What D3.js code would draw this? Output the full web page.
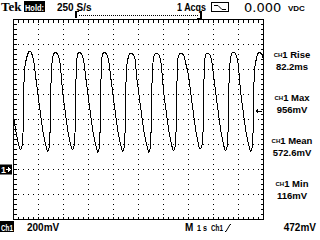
<!DOCTYPE html>
<html>
<head>
<meta charset="utf-8">
<script src="https://cdn.jsdelivr.net/npm/d3@7"></script>
<style>
  html, body { margin: 0; padding: 0; background: #fff; }
  svg { display: block; }
  text { font-family: "Liberation Sans", sans-serif; font-weight: bold; fill: #000; }
</style>
</head>
<body>
<svg width="320" height="240"></svg>
<script>
// scope settings
const secPerDiv = 1;
const voltsPerDiv = 0.2;
const triggerLevel = 0.472;

// measurements panel
const measureNames = ["Rise", "Max", "Mean", "Min"];
const measureValues = ["82.2ms", "956mV", "572.6mV", "116mV"];

// the captured trace, [seconds, volts] (one row per cycle)
const trace = [
  [0, .424], [.12, .280], [.20, .200], [.24, .172],
  [.28, .160], [.32, .172], [.36, .208], [.388, .352], [.412, .632], [.44, .792], [.52, .888], [.58, .928], [.64, .946], [.70, .938], [.76, .908], [.82, .856], [.88, .752], [.96, .632], [1.04, .504], [1.12, .384], [1.20, .280], [1.28, .200], [1.32, .172],
  [1.36, .148], [1.40, .160], [1.44, .196], [1.468, .352], [1.492, .632], [1.52, .792], [1.56, .888], [1.62, .928], [1.68, .936], [1.74, .928], [1.80, .908], [1.86, .856], [1.96, .632], [2.04, .504], [2.12, .384], [2.20, .280], [2.28, .200], [2.32, .172],
  [2.36, .160], [2.40, .172], [2.44, .208], [2.468, .352], [2.492, .632], [2.52, .850], [2.58, .928], [2.64, .936], [2.70, .928], [2.76, .908], [2.82, .856], [2.88, .752], [2.96, .632], [3.04, .504], [3.12, .384], [3.20, .280], [3.28, .200], [3.32, .172],
  [3.36, .140], [3.40, .152], [3.44, .188], [3.468, .352], [3.492, .632], [3.52, .860], [3.58, .928], [3.64, .936], [3.70, .928], [3.76, .908], [3.82, .856], [3.88, .752], [3.96, .632], [4.04, .504], [4.12, .384], [4.20, .280], [4.28, .200], [4.32, .172],
  [4.36, .144], [4.40, .156], [4.44, .192], [4.468, .352], [4.492, .632], [4.52, .792], [4.58, .888], [4.64, .924], [4.70, .932], [4.76, .924], [4.82, .908], [4.88, .856], [4.92, .752], [5.00, .632], [5.08, .504], [5.16, .384], [5.24, .280], [5.32, .200], [5.36, .172],
  [5.40, .140], [5.44, .152], [5.48, .188], [5.508, .352], [5.532, .632], [5.56, .792], [5.60, .888], [5.66, .924], [5.72, .932], [5.78, .924], [5.84, .908], [5.90, .856], [6.00, .632], [6.08, .504], [6.16, .384], [6.24, .280], [6.32, .200], [6.36, .172],
  [6.40, .152], [6.44, .164], [6.48, .200], [6.508, .352], [6.532, .632], [6.58, .888], [6.64, .924], [6.70, .932], [6.76, .924], [6.82, .908], [6.88, .856], [7.00, .752], [7.08, .632], [7.16, .504], [7.24, .384], [7.32, .280], [7.40, .200], [7.44, .172],
  [7.48, .168], [7.52, .180], [7.56, .216], [7.588, .352], [7.612, .632], [7.64, .860], [7.70, .924], [7.76, .932], [7.82, .924], [7.88, .908], [7.94, .856], [8.00, .752], [8.08, .632], [8.16, .504], [8.24, .384], [8.32, .280], [8.40, .200], [8.44, .172],
  [8.48, .152], [8.52, .164], [8.56, .200], [8.588, .352], [8.612, .632], [8.64, .792], [8.68, .888], [8.74, .932], [8.80, .940], [8.86, .932], [8.92, .908], [8.98, .856], [9.08, .632], [9.16, .504], [9.24, .384], [9.32, .280], [9.40, .200], [9.44, .172],
  [9.48, .144], [9.52, .156], [9.56, .192], [9.588, .352], [9.612, .632], [9.64, .792], [9.72, .888], [9.78, .928], [9.84, .936], [9.90, .928], [9.96, .908], [10.0, .880]
];

const svg = d3.select("svg");

const x = d3.scaleLinear().domain([0, 10 * secPerDiv]).range([13.5, 263.5]);
const y = d3.scaleLinear().domain([-2 * voltsPerDiv, 6 * voltsPerDiv]).range([219.5, 19.5]);

// graticule
const majorX = d3.range(1, 10).map(i => i * secPerDiv);
const majorY = d3.range(-1, 6).map(i => i * voltsPerDiv);
const minorX = d3.range(0, 51).map(i => i * secPerDiv / 5);
const minorY = d3.range(0, 41).map(i => -2 * voltsPerDiv + i * voltsPerDiv / 5);

const grid = svg.append("g").attr("shape-rendering", "crispEdges");

// dotted division lines
majorX.forEach(t => {
  grid.selectAll(null).data(minorY).enter().append("rect")
    .attr("x", Math.floor(x(t))).attr("y", v => Math.floor(y(v)))
    .attr("width", 1).attr("height", 1);
});
majorY.forEach(v => {
  grid.selectAll(null).data(minorX).enter().append("rect")
    .attr("x", t => Math.floor(x(t))).attr("y", Math.floor(y(v)))
    .attr("width", 1).attr("height", 1);
});

// border ticks
grid.selectAll(null).data(minorX).enter().append("line")
  .attr("x1", d => x(d)).attr("x2", d => x(d))
  .attr("y1", y.range()[1]).attr("y2", y.range()[1] + 3).attr("stroke", "#000");
grid.selectAll(null).data(minorX).enter().append("line")
  .attr("x1", d => x(d)).attr("x2", d => x(d))
  .attr("y1", y.range()[0]).attr("y2", y.range()[0] - 3).attr("stroke", "#000");
grid.selectAll(null).data(minorY).enter().append("line")
  .attr("y1", d => y(d)).attr("y2", d => y(d))
  .attr("x1", x.range()[0]).attr("x2", x.range()[0] + 3).attr("stroke", "#000");
grid.selectAll(null).data(minorY).enter().append("line")
  .attr("y1", d => y(d)).attr("y2", d => y(d))
  .attr("x1", x.range()[1]).attr("x2", x.range()[1] - 3).attr("stroke", "#000");

grid.append("rect")
  .attr("x", x.range()[0]).attr("y", y.range()[1])
  .attr("width", x.range()[1] - x.range()[0]).attr("height", y.range()[0] - y.range()[1])
  .attr("fill", "none").attr("stroke", "#000");

// trace
svg.append("defs").append("clipPath").attr("id", "scr").append("rect")
  .attr("x", 14).attr("y", 20).attr("width", 249).attr("height", 199);

svg.append("path")
  .datum(trace)
  .attr("clip-path", "url(#scr)")
  .attr("fill", "none")
  .attr("stroke", "#000")
  .attr("stroke-width", 1)
  .attr("shape-rendering", "crispEdges")
  .attr("d", d3.line().x(d => x(d[0])).y(d => y(d[1])).curve(d3.curveMonotoneX));

// ground marker
svg.append("rect").attr("x", 0).attr("y", y(0) - 5).attr("width", 12).attr("height", 10);
svg.append("text").attr("x", 1).attr("y", y(0) + 3.5).style("font-size", "9px").style("fill", "#fff").text("1");
svg.append("path")
  .attr("d", `M6,${y(0)}h4m-2,-2l2,2l-2,2`)
  .attr("stroke", "#fff").attr("fill", "none").attr("shape-rendering", "crispEdges");

// trigger level arrow
const ty = Math.round(y(triggerLevel));
svg.append("path").attr("d", `M255,${ty}L258,${ty - 3}L258,${ty + 3}Z`).attr("shape-rendering", "crispEdges");
svg.append("line").attr("x1", 258).attr("x2", 262).attr("y1", ty + 0.5).attr("y2", ty + 0.5)
  .attr("stroke", "#000").attr("shape-rendering", "crispEdges");

// header
svg.append("text").attr("x", 1).attr("y", 11)
  .style("font-family", "'Liberation Serif', serif").style("font-size", "13px").text("Tek");
svg.append("rect").attr("x", 24).attr("y", 1).attr("width", 21).attr("height", 11);
svg.append("text").attr("x", 25).attr("y", 10.5).style("font-size", "9px").style("fill", "#fff")
  .attr("textLength", 19).attr("lengthAdjust", "spacingAndGlyphs").text("Hold:");
svg.append("text").attr("x", 57).attr("y", 11).style("font-size", "10px").text("250 S/s");

// record view bracket
const rec = svg.append("g").attr("shape-rendering", "crispEdges");
rec.append("path").attr("d", "M75,11h4v1h-2v6h-2z");
rec.append("path").attr("d", "M202,11h-2v7h-3v1h5z");
rec.selectAll(null).data(d3.range(79, 199, 2)).enter().append("rect")
  .attr("x", d => d).attr("y", 15).attr("width", 1).attr("height", 1);

svg.append("text").attr("x", 177).attr("y", 11).style("font-size", "10px")
  .attr("textLength", 29).attr("lengthAdjust", "spacingAndGlyphs").text("1 Acqs");
svg.append("rect").attr("x", 211.5).attr("y", 2.5).attr("width", 17).attr("height", 9)
  .attr("fill", "none").attr("stroke", "#000").attr("shape-rendering", "crispEdges");
svg.append("path").attr("d", "M214,5.5h4l4,4h4").attr("fill", "none").attr("stroke", "#000");
svg.append("text").attr("x", 244).attr("y", 12).style("font-size", "13px").style("font-weight", "normal")
  .style("font-family", "'DejaVu Sans', sans-serif").text("0.000");
svg.append("text").attr("x", 288).attr("y", 11).style("font-size", "8px").text("VDC");

// footer
svg.append("rect").attr("x", 0).attr("y", 221).attr("width", 14).attr("height", 11);
svg.append("text").attr("x", 1).attr("y", 230.5).style("font-size", "9px").style("fill", "#fff")
  .attr("textLength", 12).attr("lengthAdjust", "spacingAndGlyphs").text("Ch1");
svg.append("text").attr("x", 27).attr("y", 231).style("font-size", "10px").text("200mV");
svg.append("text").attr("x", 185).attr("y", 231).style("font-size", "10px").text("M");
svg.append("text").attr("x", 197).attr("y", 231).style("font-size", "9.5px")
  .attr("textLength", 10).attr("lengthAdjust", "spacingAndGlyphs").text("1 s");
svg.append("text").attr("x", 211).attr("y", 231).style("font-size", "9.5px")
  .attr("textLength", 12).attr("lengthAdjust", "spacingAndGlyphs").text("Ch1");
svg.append("path").attr("d", "M225,231.5h1l4,-7h1").attr("fill", "none").attr("stroke", "#000");
svg.append("text").attr("x", 316).attr("y", 231).attr("text-anchor", "end").style("font-size", "10px").text("472mV");

// measurement readouts
const labelY = [58, 101, 144, 187];
measureNames.forEach((name, i) => {
  const t = svg.append("text").attr("x", 292).attr("y", labelY[i]).attr("text-anchor", "middle")
    .style("font-size", "9.5px");
  t.append("tspan").style("font-size", "6px").attr("dy", -1).text("CH");
  t.append("tspan").attr("dy", 1).text("1 " + name);
  svg.append("text").attr("x", 292).attr("y", labelY[i] + 12).attr("text-anchor", "middle")
    .style("font-size", "9.5px").text(measureValues[i]);
});
</script>
</body>
</html>
